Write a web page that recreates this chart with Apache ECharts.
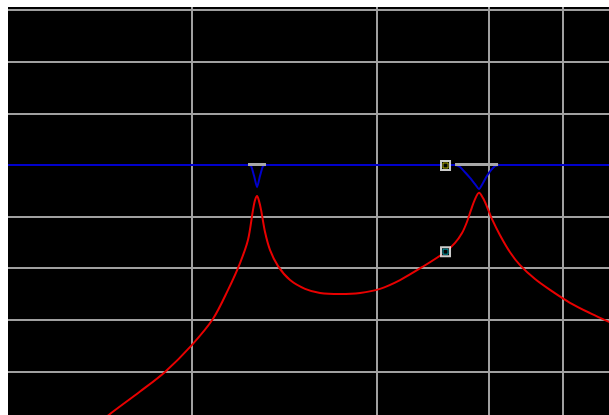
<!DOCTYPE html>
<html>
<head>
<meta charset="utf-8">
<script src="https://cdn.jsdelivr.net/npm/echarts@6/dist/echarts.min.js"></script>
<style>
html,body{margin:0;padding:0;background:#fff;}
#chart{width:609px;height:415px;}
</style>
</head>
<body>
<div id="chart"></div>
<script>
// Frequency (Hz) and level (dB) values
const redFreq = [25.1, 36.0, 52.9, 72.1, 100, 130.9, 157.7, 183.0, 202.1, 215.0, 220.5, 226.1, 231.7, 237.6, 249.6, 265.7, 293.4, 340.5, 410.2, 494.1, 633.3, 811.7, 1040, 1334, 1752, 2332, 2640, 2879, 3064, 3219, 3384, 3555, 3736, 3928, 4178, 4615, 5225, 5916, 7127, 8585, 11000, 14110, 17860, 20470];
const redDb   = [-52.9, -48.4, -43.9, -40.1, -35.0, -29.8, -24.2, -19.0, -14.5, -8.7, -6.8, -6.0, -7.0, -8.7, -13.0, -16.5, -19.6, -22.3, -24.0, -24.8, -25.0, -24.8, -24.0, -22.3, -19.8, -16.9, -15.1, -13.2, -11.0, -8.7, -6.6, -5.4, -6.4, -8.1, -10.5, -13.6, -16.9, -19.4, -22.1, -24.2, -26.7, -28.7, -30.4, -31.4];

const blueFreq = [10.27, 202.1, 209.8, 217.8, 226.1, 234.6, 243.5, 252.7, 2640, 2808, 2989, 3180, 3384, 3555, 3736, 3928, 4127, 4337, 4615, 17850];
const blueDb   = [0, 0, -0.2, -2.1, -4.3, -2.1, -0.2, 0, 0, -0.4, -1.4, -2.5, -3.7, -4.65, -3.5, -2.1, -1.0, -0.2, 0, 0];

const band1 = [202.1, 252.7];
const band2 = [2640, 4503];

const markerFreq = [2346, 2346];
const markerDb = [-0.1, -16.8];

const hLines = [30, 20, 10, 0, -10, -20, -30, -40];
const vLines = [100, 1000, 4000, 10000];

const zip = (a, b) => a.map((v, i) => [v, b[i]]);

const chart = echarts.init(document.getElementById('chart'), null, {renderer: 'canvas'});
const gridColor = '#a0a0a0';
chart.setOption({
  animation: false,
  backgroundColor: '#ffffff',
  grid: {left: 8, top: 7, right: 0, bottom: 0, show: true, backgroundColor: '#000000', borderWidth: 0},
  xAxis: {type: 'log', logBase: 10, min: 10.27, max: 17850,
    axisLine: {show: false}, axisTick: {show: false}, axisLabel: {show: false}, splitLine: {show: false}, minorSplitLine: {show: false}},
  yAxis: {type: 'value', min: -48.45, max: 30.62,
    axisLine: {show: false}, axisTick: {show: false}, axisLabel: {show: false}, splitLine: {show: false}},
  series: [
    {type: 'line', data: [], zlevel: 0, z: 1, silent: true,
      markLine: {silent: true, symbol: ['none', 'none'], label: {show: false},
        lineStyle: {color: gridColor, width: 2, type: 'solid'},
        data: hLines.map(v => ({yAxis: v})).concat(vLines.map(v => ({xAxis: v})))}},
    {type: 'line', data: zip(redFreq, redDb), showSymbol: false, symbol: 'none', zlevel: 1, z: 3, clip: true,
      smooth: 0.3, lineStyle: {color: '#e80000', width: 2}},
    {type: 'line', data: zip(blueFreq, blueDb), showSymbol: false, symbol: 'none', zlevel: 1, z: 4, clip: true,
      smooth: 0.2, lineStyle: {color: '#0000cc', width: 2}},
    {type: 'line', data: band1.map(f => [f, 0.1]), showSymbol: false, symbol: 'none', zlevel: 1, z: 5,
      lineStyle: {color: '#a8a8a8', width: 3}},
    {type: 'line', data: band2.map(f => [f, 0.1]), showSymbol: false, symbol: 'none', zlevel: 1, z: 5,
      lineStyle: {color: '#a8a8a8', width: 3}},
    {type: 'scatter', data: zip(markerFreq, markerDb), symbol: 'rect', symbolSize: 9, zlevel: 1, z: 6,
      itemStyle: {color: '#000000', borderColor: '#ffffff', borderWidth: 2}},
    {type: 'scatter', data: [[markerFreq[0], markerDb[0]]], symbol: 'rect', symbolSize: 5, zlevel: 1, z: 7,
      itemStyle: {color: '#000000', borderColor: '#d8d000', borderWidth: 1}},
    {type: 'scatter', data: [[markerFreq[1], markerDb[1]]], symbol: 'rect', symbolSize: 5, zlevel: 1, z: 7,
      itemStyle: {color: '#000000', borderColor: '#00c0d0', borderWidth: 1}}
  ]
});
</script>
</body>
</html>
